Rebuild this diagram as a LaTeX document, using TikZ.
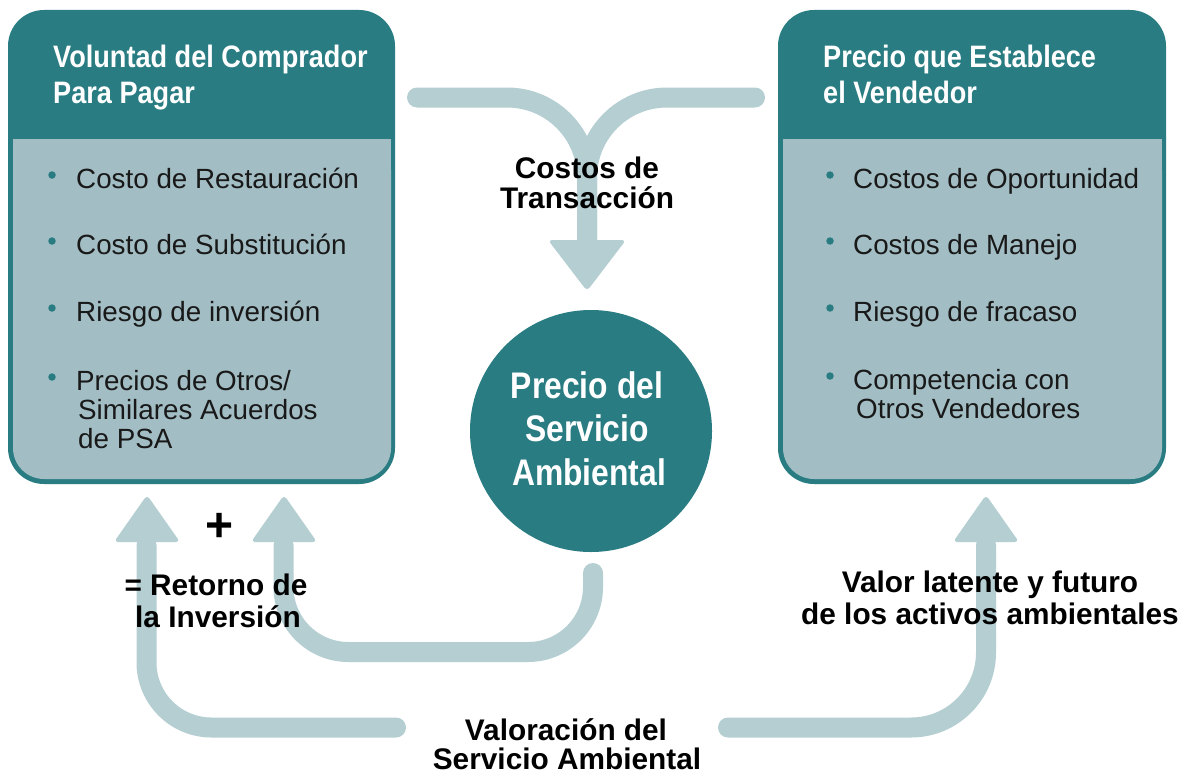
\documentclass[tikz,border=0pt]{standalone}
\usepackage{fontspec}
\setmainfont{Liberation Sans}
\newfontfamily\condfont[FakeStretch=0.875]{Liberation Sans}
\newfontfamily\circfont[FakeStretch=0.86]{Liberation Sans}
\definecolor{tealc}{RGB}{40,124,130}
\definecolor{panelc}{RGB}{162,190,196}
\definecolor{arrowc}{RGB}{180,206,210}
\tikzset{
  hdr/.style={font=\condfont\bfseries\fontsize{31}{36}\selectfont, text=white, anchor=base west, inner sep=0pt},
  item/.style={font=\fontsize{27.8}{29}\selectfont, text=black!90, anchor=base west, inner sep=0pt},
  dot/.style={circle, fill=tealc, inner sep=0pt, minimum size=7.5pt},
  lbl/.style={font=\bfseries\fontsize{29.8}{32}\selectfont, anchor=base, inner sep=0pt},
  ctext/.style={font=\circfont\bfseries\fontsize{37}{43}\selectfont, text=white, anchor=base, inner sep=0pt},
  shaft/.style={draw=arrowc, line width=20pt, line cap=round},
  headtip/.style={fill=arrowc, rounded corners=4pt},
}
\begin{document}
\begin{tikzpicture}[x=1pt,y=-1pt]
\useasboundingbox (0,0) rectangle (1190,776);
\fill[white] (0,0) rectangle (1190,776);

% ---- left box
\fill[tealc, rounded corners=36pt] (8,10) rectangle (395,484);
\fill[panelc, rounded corners=31pt] (13,139) rectangle (391,479);
\fill[panelc] (13,139) rectangle (391,200);
\node[hdr] (lh1) at (53,67) {Voluntad del Comprador};
\node[hdr] (lh2) at (53,103) {Para Pagar};
\node[dot] (ld1) at (52,175) {};
\node[dot] (ld2) at (52,241) {};
\node[dot] (ld3) at (52,308) {};
\node[dot] (ld4) at (52,377) {};
\node[item] (li1) at (76,188) {Costo de Restauración};
\node[item] (li2) at (76,254) {Costo de Substitución};
\node[item] (li3) at (76,321) {Riesgo de inversión};
\node[item] (li4a) at (76,390) {Precios de Otros/};
\node[item] (li4b) at (78,419) {Similares Acuerdos};
\node[item] (li4c) at (78,448) {de PSA};

% ---- right box
\fill[tealc, rounded corners=36pt] (778,10) rectangle (1166,484);
\fill[panelc, rounded corners=31pt] (783,139) rectangle (1162,479);
\fill[panelc] (783,139) rectangle (1162,200);
\node[hdr] (rh1) at (823,67) {Precio que Establece};
\node[hdr] (rh2) at (823,103) {el Vendedor};
\node[dot] (rd1) at (830,175) {};
\node[dot] (rd2) at (830,241) {};
\node[dot] (rd3) at (830,308) {};
\node[dot] (rd4) at (830,376) {};
\node[item] (ri1) at (853,188) {Costos de Oportunidad};
\node[item] (ri2) at (853,254) {Costos de Manejo};
\node[item] (ri3) at (853,321) {Riesgo de fracaso};
\node[item] (ri4a) at (853,389) {Competencia con};
\node[item] (ri4b) at (856,418) {Otros Vendedores};

% ---- centre circle
\node[circle, fill=tealc, minimum size=242pt, inner sep=0pt] (price) at (591,431) {};
\node[ctext] (c1) at (587,398) {Precio del};
\node[ctext] (c2) at (587,441) {Servicio};
\node[ctext] (c3) at (589,485) {Ambiental};

% ---- top arrow (transaction costs)
\coordinate (tl) at (417,97.5);
\coordinate (tr) at (755,97.5);
\coordinate (tb) at (587,244);
\draw[shaft] (tl) -- (507,97.5) .. controls (551,97.5) and (587,133) .. (587,177.5) -- (tb);
\draw[shaft] (tr) -- (667,97.5) .. controls (623,97.5) and (587,133) .. (587,177.5) -- (tb);
\fill[headtip] (548,240) -- (626,240) -- (587,291) -- cycle;

% ---- inner bottom arrow (from price to buyer)
\coordinate (ia) at (593,573);
\coordinate (ib) at (283.5,545);
\draw[shaft, rounded corners=65pt] (ia) -- (593,652) -- (283.5,652) -- (ib);
\fill[headtip] (251,542) -- (317,542) -- (284,495) -- cycle;

% ---- outer left arrow
\coordinate (oa) at (396,727.5);
\coordinate (ob) at (146.5,545);
\draw[shaft, rounded corners=65pt] (oa) -- (146.5,727.5) -- (ob);
\fill[headtip] (114,542) -- (180,542) -- (147,495) -- cycle;

% ---- right arrow
\coordinate (ra) at (728,727.5);
\coordinate (rb) at (986,545);
\draw[shaft, rounded corners=75pt] (ra) -- (986,727.5) -- (rb);
\fill[headtip] (953,542) -- (1019,542) -- (986,495) -- cycle;

% ---- labels
\node[lbl] (t1) at (587,178) {Costos de};
\node[lbl] (t2) at (587,208) {Transacción};
\node[font=\bfseries\fontsize{48}{48}\selectfont, inner sep=0pt] (plus) at (220,527) {+};
\node[lbl] (r1) at (216,595) {= Retorno de};
\node[lbl] (r2) at (218,627) {la Inversión};
\node[lbl] (v1) at (990,592) {Valor latente y futuro};
\node[lbl] (v2) at (990,624) {de los activos ambientales};
\node[lbl] (s1) at (566,740) {Valoración del};
\node[lbl] (s2) at (567,769) {Servicio Ambiental};
\end{tikzpicture}
\end{document}
